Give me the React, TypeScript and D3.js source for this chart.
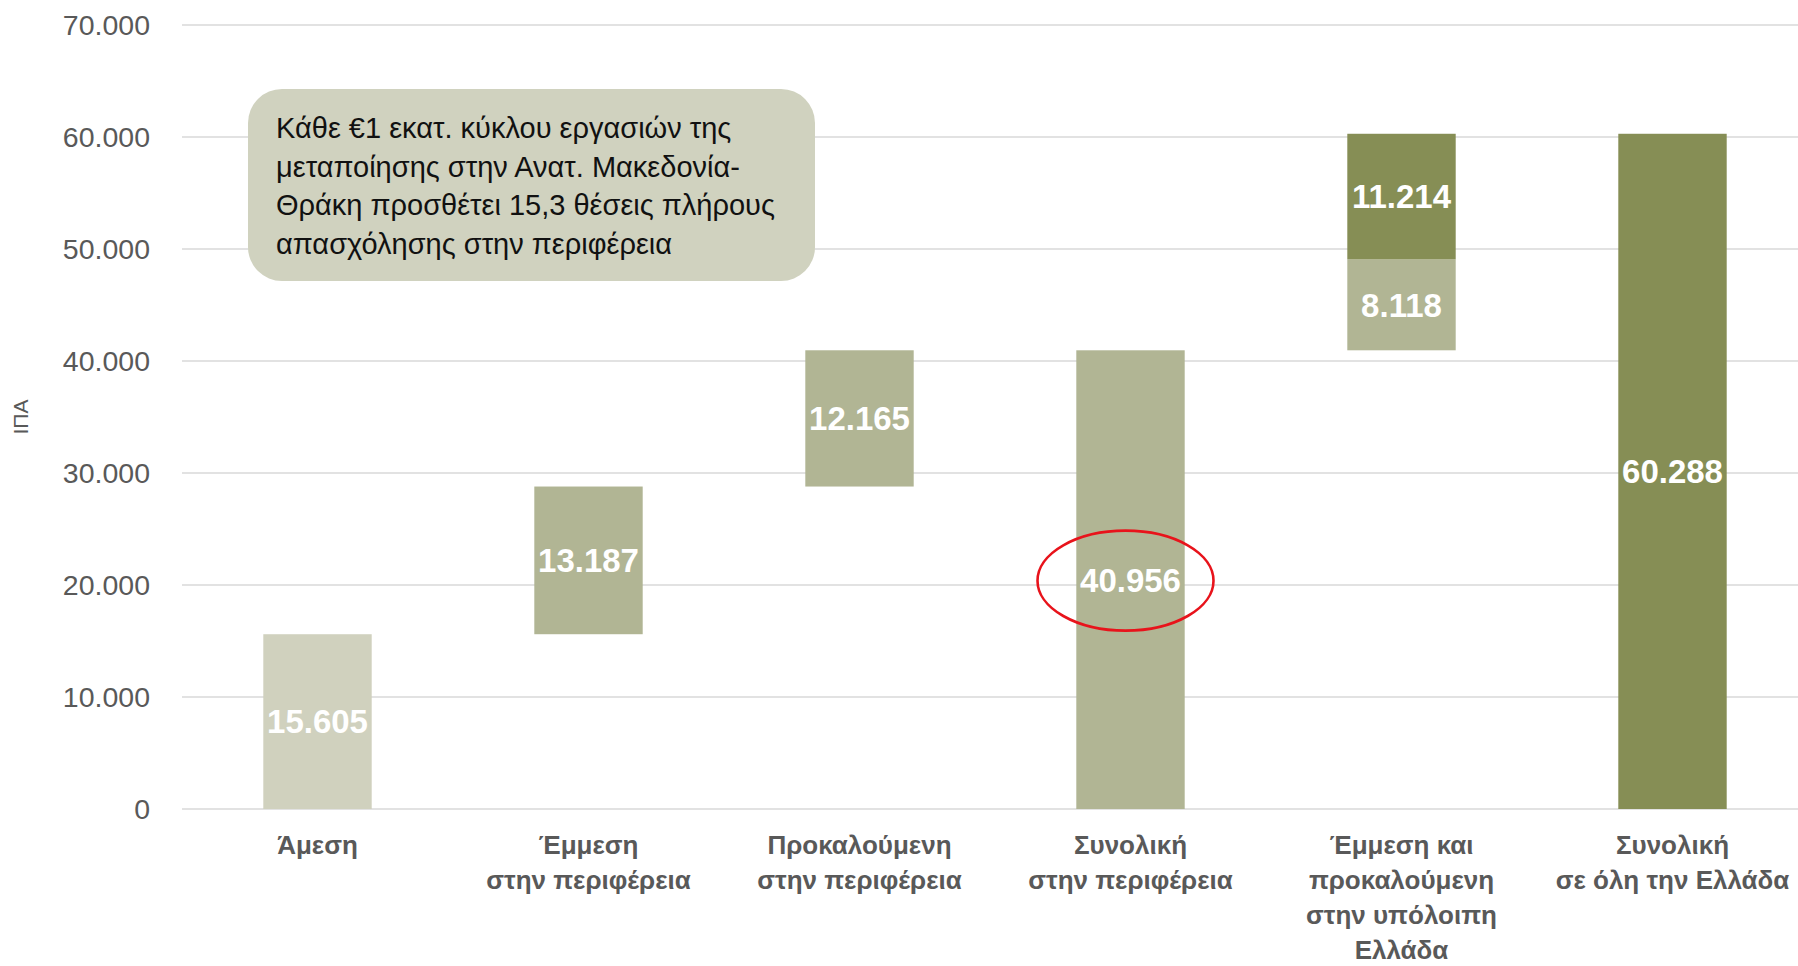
import React from "react";
import * as d3 from "d3";

const categories: string[][] = [
  ["Άμεση"],
  ["Έμμεση", "στην περιφέρεια"],
  ["Προκαλούμενη", "στην περιφέρεια"],
  ["Συνολική", "στην περιφέρεια"],
  ["Έμμεση και", "προκαλούμενη", "στην υπόλοιπη", "Ελλάδα"],
  ["Συνολική", "σε όλη την Ελλάδα"],
];

// segments: [categoryIndex, base, value, tone]
const segCategory = [0, 1, 2, 3, 4, 4, 5];
const segBase = [0, 15605, 28792, 0, 40956, 49074, 0];
const segValue = [15605, 13187, 12165, 40956, 8118, 11214, 60288];
const segTone = [0, 1, 1, 1, 1, 2, 2];
const segLabel = ["15.605", "13.187", "12.165", "40.956", "8.118", "11.214", "60.288"];

const yTicks = [0, 10000, 20000, 30000, 40000, 50000, 60000, 70000];
const tones = ["#D0D1BE", "#B1B594", "#868E55"];

const noteLines = [
  "Κάθε €1 εκατ. κύκλου εργασιών της",
  "μεταποίησης στην Ανατ. Μακεδονία-",
  "Θράκη προσθέτει 15,3 θέσεις πλήρους",
  "απασχόλησης στην περιφέρεια",
];

const W = 1798;
const H = 966;
const FONT = "'Liberation Sans', Arial, sans-serif";

export default function App() {
  const x = d3
    .scaleBand<number>()
    .domain(d3.range(categories.length))
    .range([182, 1808])
    .paddingInner(0.6)
    .paddingOuter(0.3);
  const y = d3.scaleLinear().domain([0, 70000]).range([809, 25]);
  const fmt = (v: number) => d3.format(",")(v).replace(/,/g, ".");
  const bw = x.bandwidth();

  return (
    <svg
      width={W}
      height={H}
      style={{ position: "absolute", left: 0, top: 0, display: "block", background: "#fff" }}
      fontFamily={FONT}
    >
      {yTicks.map((t) => (
        <g key={t}>
          <line x1={182} x2={W} y1={y(t)} y2={y(t)} stroke="#D9D9D9" strokeWidth={1.6} />
          <text
            x={150}
            y={y(t)}
            dy="0.35em"
            textAnchor="end"
            fontSize={28.5}
            fill="#595959"
          >
            {t === 0 ? "0" : fmt(t)}
          </text>
        </g>
      ))}

      <text
        transform="translate(28,417) rotate(-90)"
        textAnchor="middle"
        fontSize={21}
        fill="#595959"
      >
        ΙΠΑ
      </text>

      {segValue.map((v, i) => {
        const x0 = x(segCategory[i])!;
        const top = y(segBase[i] + v);
        const bot = y(segBase[i]);
        return (
          <g key={i}>
            <rect x={x0} y={top} width={bw} height={bot - top} fill={tones[segTone[i]]} />
            <text
              x={x0 + bw / 2}
              y={(top + bot) / 2}
              dy="0.36em"
              textAnchor="middle"
              fontSize={33}
              fontWeight="bold"
              fill="#FFFFFF"
            >
              {segLabel[i]}
            </text>
          </g>
        );
      })}

      {categories.map((lines, i) => (
        <text
          key={i}
          x={x(i)! + bw / 2}
          textAnchor="middle"
          fontSize={26}
          fontWeight="bold"
          fill="#595959"
        >
          {lines.map((l, j) => (
            <tspan key={j} x={x(i)! + bw / 2} y={854 + j * 35}>
              {l}
            </tspan>
          ))}
        </text>
      ))}

      <ellipse
        cx={x(3)! + bw / 2 - 5}
        cy={y(20478) + 1}
        rx={88}
        ry={50}
        fill="none"
        stroke="#E8131B"
        strokeWidth={2.6}
      />

      <rect x={248} y={89} width={567} height={192} rx={34} ry={34} fill="#D0D2BF" />
      {noteLines.map((l, i) => (
        <text key={i} x={276} y={138 + i * 38.7} fontSize={29} fill="#111111">
          {l}
        </text>
      ))}
    </svg>
  );
}
